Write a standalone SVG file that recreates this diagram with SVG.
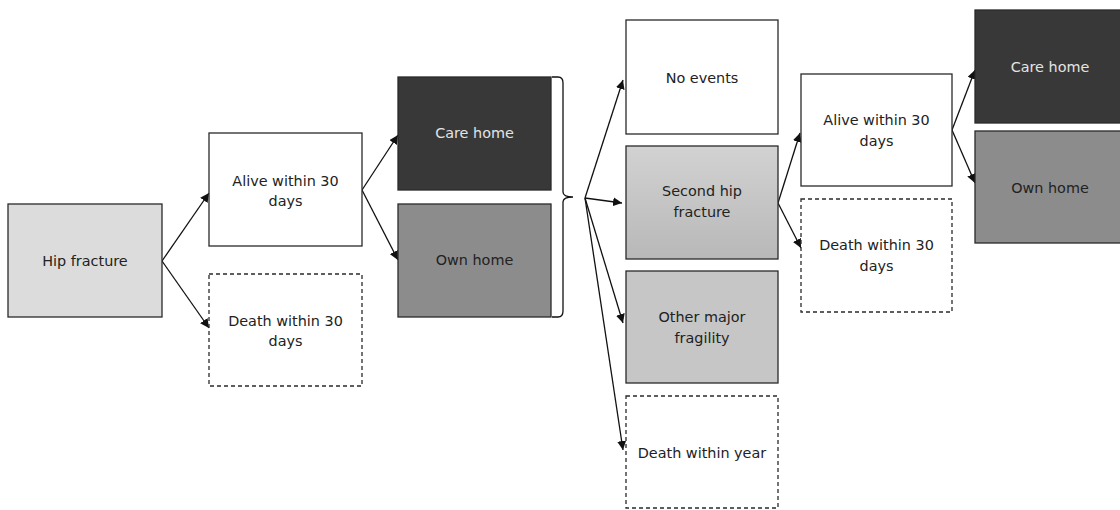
<svg xmlns="http://www.w3.org/2000/svg" width="1120" height="510" viewBox="0 0 1120 510">
<style>
.box{stroke:#2a2a2a;stroke-width:1.3}
.dash{fill:#fff;stroke:#2a2a2a;stroke-width:1.3;stroke-dasharray:4,3}
.t{font-family:"DejaVu Sans",Verdana,sans-serif;font-size:14.4px;fill:#222;text-anchor:middle}
.tl{fill:#e4e4e4}
.c{stroke:#111;stroke-width:1.3;fill:none}
</style>
<defs>
<marker id="ah" viewBox="0 0 10 10" refX="10" refY="5" markerWidth="9" markerHeight="9" markerUnits="userSpaceOnUse" orient="auto">
<path d="M0,0 L10,5 L0,10 z" fill="#111"/>
</marker>
<linearGradient id="g2" x1="0" y1="0" x2="0" y2="1">
<stop offset="0" stop-color="#d2d2d2"/>
<stop offset="1" stop-color="#b8b8b8"/>
</linearGradient>
</defs>
<rect width="1120" height="510" fill="#fff"/>
<g id="connectors">
<line class="c" x1="162" y1="261" x2="209" y2="193" marker-end="url(#ah)"/>
<line class="c" x1="162" y1="261" x2="209" y2="328" marker-end="url(#ah)"/>
<line class="c" x1="362" y1="190" x2="398" y2="135" marker-end="url(#ah)"/>
<line class="c" x1="362" y1="190" x2="398" y2="260" marker-end="url(#ah)"/>
<line class="c" x1="585" y1="198" x2="623" y2="80" marker-end="url(#ah)"/>
<line class="c" x1="585" y1="198" x2="622" y2="203" marker-end="url(#ah)"/>
<line class="c" x1="585" y1="198" x2="623" y2="323" marker-end="url(#ah)"/>
<line class="c" x1="585" y1="198" x2="623" y2="450" marker-end="url(#ah)"/>
<line class="c" x1="778" y1="203" x2="800" y2="133" marker-end="url(#ah)"/>
<line class="c" x1="778" y1="203" x2="801" y2="248" marker-end="url(#ah)"/>
<line class="c" x1="952" y1="130" x2="975" y2="70" marker-end="url(#ah)"/>
<line class="c" x1="952" y1="130" x2="975" y2="183" marker-end="url(#ah)"/>
<path class="c" d="M552,77 L558,77 Q563,77 563,83 L563,192 Q563,197 573,197 Q563,197 563,202 L563,311 Q563,317 558,317 L552,317"/>
</g>
<g id="hip-fracture">
<rect class="box" x="8" y="204" width="154" height="113" fill="#dcdcdc"/>
<text class="t" x="85" y="266">Hip fracture</text>
</g>
<g id="alive-30-a">
<rect class="box" x="209" y="133" width="153" height="113" fill="#fff"/>
<text class="t" x="285.5" y="186">Alive within 30</text>
<text class="t" x="285.5" y="206">days</text>
</g>
<g id="death-30-a">
<rect class="dash" x="209" y="274" width="153" height="112"/>
<text class="t" x="285.5" y="326">Death within 30</text>
<text class="t" x="285.5" y="346">days</text>
</g>
<g id="care-home-a">
<rect class="box" x="398" y="77" width="153" height="113" fill="#383838"/>
<text class="t tl" x="474.5" y="138">Care home</text>
</g>
<g id="own-home-a">
<rect class="box" x="398" y="204" width="153" height="113" fill="#8c8c8c"/>
<text class="t" x="474.5" y="265">Own home</text>
</g>
<g id="no-events">
<rect class="box" x="626" y="20" width="152" height="114" fill="#fff"/>
<text class="t" x="702" y="83">No events</text>
</g>
<g id="second-hip">
<rect class="box" x="626" y="146" width="152" height="113" fill="url(#g2)"/>
<text class="t" x="702" y="196">Second hip</text>
<text class="t" x="702" y="217">fracture</text>
</g>
<g id="other-fragility">
<rect class="box" x="626" y="271" width="152" height="112" fill="#c6c6c6"/>
<text class="t" x="702" y="322">Other major</text>
<text class="t" x="702" y="343">fragility</text>
</g>
<g id="death-year">
<rect class="dash" x="626" y="396" width="152" height="112"/>
<text class="t" x="702" y="458">Death within year</text>
</g>
<g id="alive-30-b">
<rect class="box" x="801" y="74" width="151" height="112" fill="#fff"/>
<text class="t" x="876.5" y="125">Alive within 30</text>
<text class="t" x="876.5" y="146">days</text>
</g>
<g id="death-30-b">
<rect class="dash" x="801" y="199" width="151" height="113"/>
<text class="t" x="876.5" y="250">Death within 30</text>
<text class="t" x="876.5" y="271">days</text>
</g>
<g id="care-home-b">
<rect class="box" x="975" y="10" width="153" height="113" fill="#383838"/>
<text class="t tl" x="1050" y="72">Care home</text>
</g>
<g id="own-home-b">
<rect class="box" x="975" y="131" width="153" height="112" fill="#8c8c8c"/>
<text class="t" x="1050" y="193">Own home</text>
</g>
</svg>
